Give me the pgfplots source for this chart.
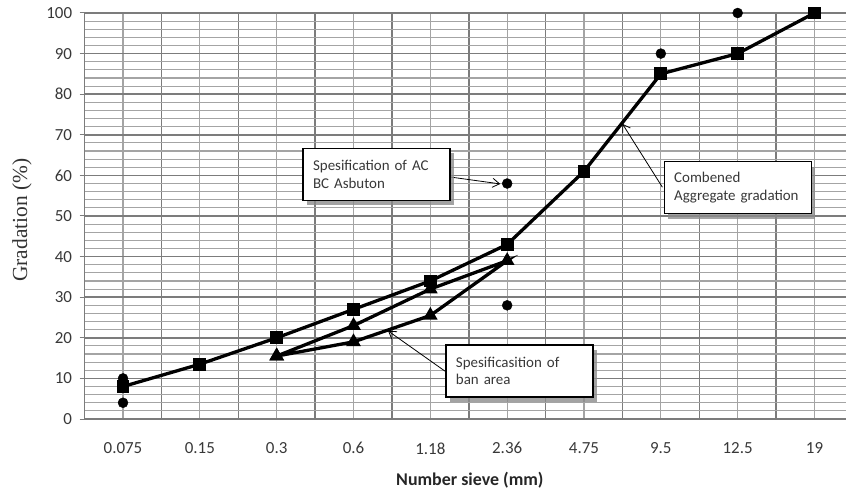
\documentclass[border=0pt]{standalone}
\usepackage{fontspec}
\setmainfont{Carlito}
\newfontfamily\labelserif{Liberation Serif}
\usepackage{pgfplots}
\pgfplotsset{compat=1.18}
\usetikzlibrary{shadows,arrows.meta}
\definecolor{majgrid}{HTML}{7C7C7C}
\definecolor{mingrid}{HTML}{A4A4A4}
\definecolor{ticktext}{HTML}{383838}
\tikzset{
  annbox/.style={draw=black, line width=1.3bp, fill=white, text width=127bp,
    inner xsep=10bp, minimum height=52bp, align=left,
    font=\fontsize{15}{17.5}\selectfont, text=ticktext,
    drop shadow={shadow xshift=4bp, shadow yshift=-5bp, fill=black!45, opacity=0.8}},
  annarrow/.style={-{Straight Barb[length=7bp,width=9bp]}, line width=0.8bp, black},
}

\pgfplotstableread{
x y
0 8
1 13.5
2 20
3 27
4 34
5 43
6 61
7 85
8 90
9 100
}\combined

\pgfplotstableread{
x y
2 15.5
3 23
4 32
5 39
4 25.5
3 19
2 15.5
}\banarea

\pgfplotstableread{
x y
0 10
0 4
5 58
5 28
7 90
8 100
9 100
}\specac

\begin{document}
\hyphenpenalty=10000
\begin{tikzpicture}
\useasboundingbox (-84.6bp,-75bp) rectangle (761.4bp,419bp);
\begin{axis}[
  at={(0,0)}, anchor=south west,
  scale only axis, width=761.4bp, height=406bp,
  xmin=-0.5, xmax=9.41, ymin=0, ymax=100,
  axis lines=left, axis line style={-, majgrid, line width=1.4bp},
  clip=false,
  xtick={-0.5,0.5,1.5,2.5,3.5,4.5,5.5,6.5,7.5,8.5}, xticklabels={},
  minor xtick={0,...,9},
  extra x ticks={0,...,9},
  extra x tick labels={0.075,0.15,0.3,0.6,1.18,2.36,4.75,9.5,12.5,19},
  extra x tick style={grid=none, major tick length=0pt},
  xmajorgrids, xminorgrids,
  ytick={0,10,...,100}, minor y tick num=4, ymajorgrids, yminorgrids,
  major grid style={majgrid, line width=1.5bp},
  minor grid style={mingrid, line width=1.1bp},
  xtick style={draw=none}, minor tick length=0pt,
  ytick style={majgrid, line width=1bp},
  major tick length=5bp, tick align=outside,
  tick label style={font=\fontsize{17}{20}\selectfont, text=ticktext},
  /pgf/number format/assume math mode=true,
  xticklabel style={yshift=-20bp},
  yticklabel style={xshift=-4bp},
  xlabel={Number sieve (mm)},
  xlabel style={at={(axis description cs:0.506,-0.150)}, anchor=center,
    font=\fontsize{18}{21}\selectfont\bfseries, text=black!85},
  ylabel={\labelserif Gradation (\%)},
  ylabel style={at={(axis description cs:-0.0822,0.490)}, anchor=center,
    font=\fontsize{21.5}{25}\selectfont, text=black!80},
]
\addplot[black, line width=3.3bp, mark=square*, mark size=4.8bp] table[x=x,y=y] {\combined};
\addplot[black, line width=3.3bp, mark=triangle*, mark size=5.2bp] table[x=x,y=y] {\banarea};
\addplot[only marks, black, mark=*, mark size=5bp] table[x=x,y=y] {\specac};

\draw[annarrow] (axis cs:4.26,59.6) -- (axis cs:4.91,57.9);
\draw[annarrow] (axis cs:4.19,11.8) -- (axis cs:3.45,21.7);
\draw[annarrow] (axis cs:7.02,57.1) -- (axis cs:6.50,72.7);

\node[annbox] at (axis cs:3.30,60.3) {Spesification of AC\\BC Asbuton};
\node[annbox] at (axis cs:5.16,11.8) {Spesificasition of\\ban area};
\node[annbox] at (axis cs:8.0,57.0) {Combened\\Aggregate gradation};
\end{axis}
\end{tikzpicture}
\end{document}
